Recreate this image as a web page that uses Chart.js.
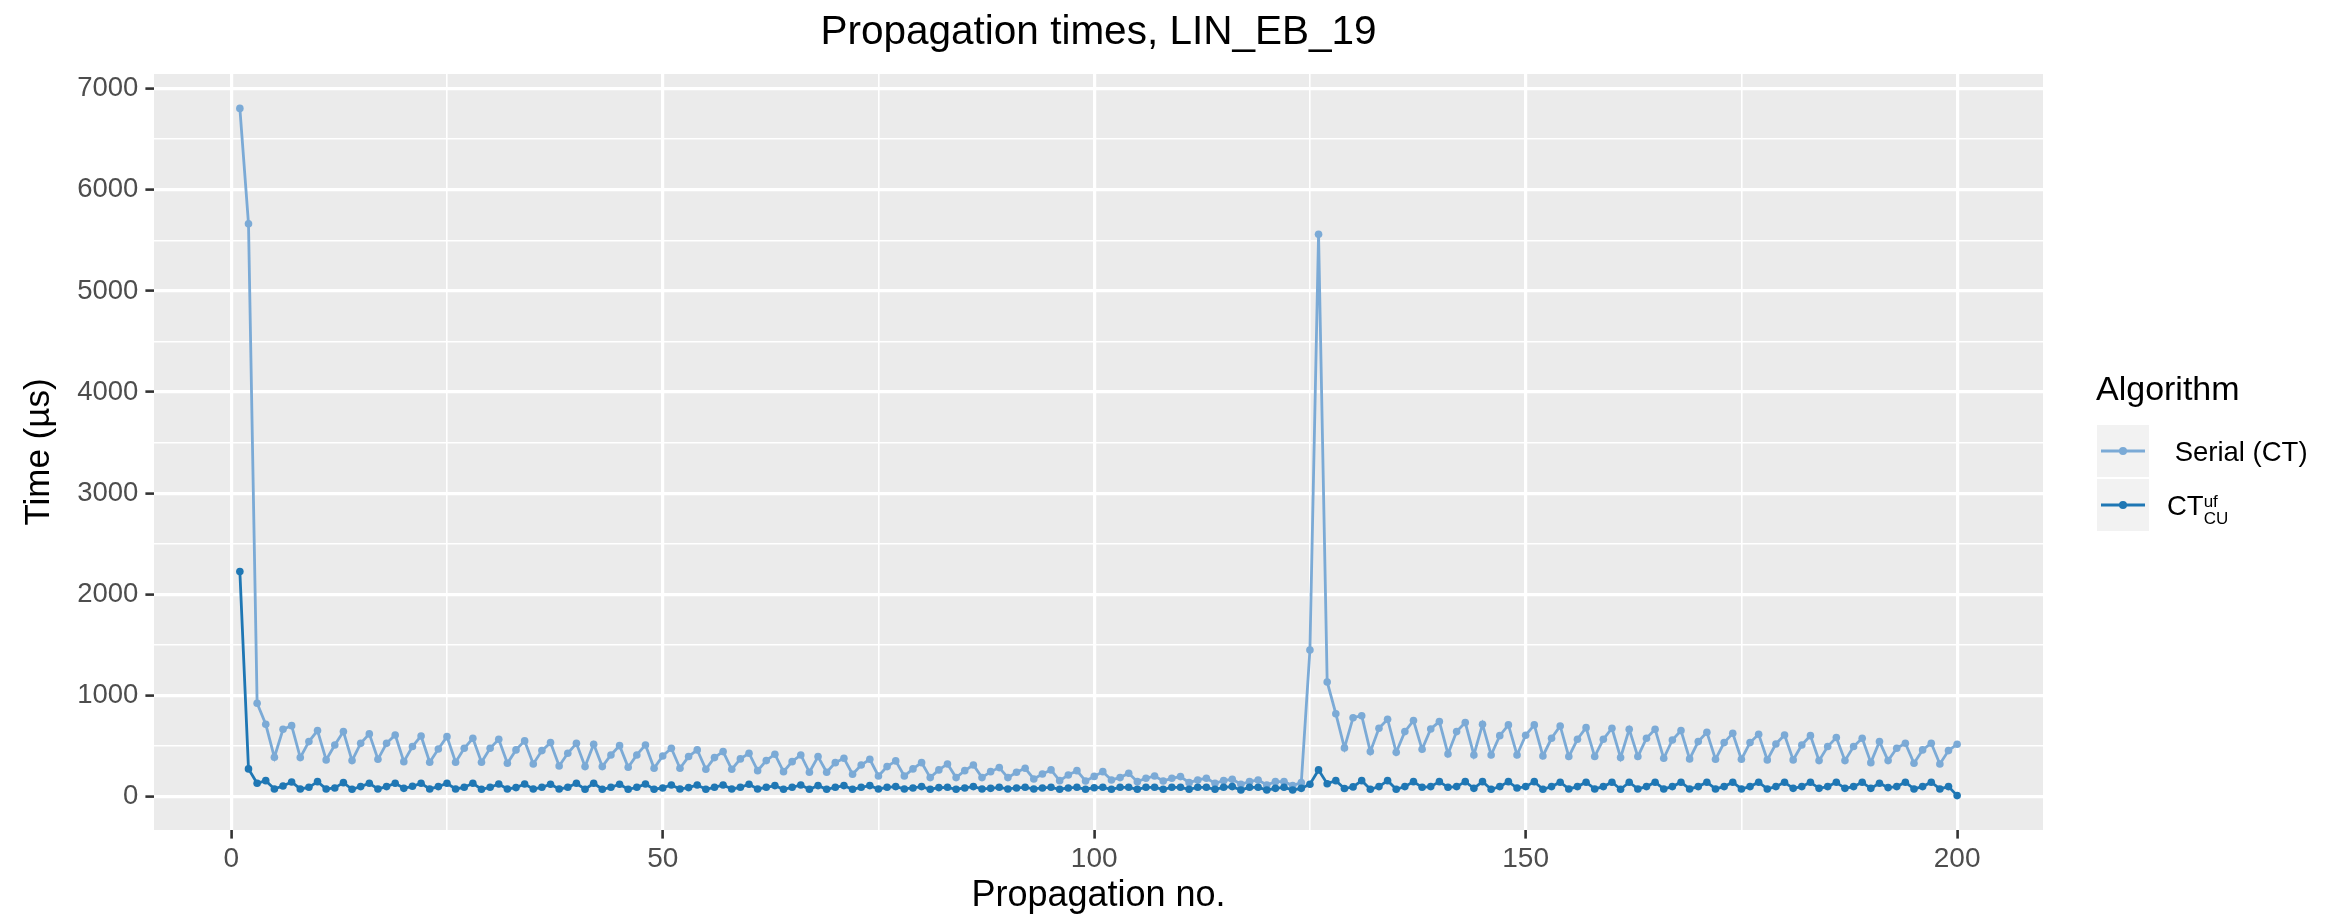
<!DOCTYPE html>
<html>
<head>
<meta charset="utf-8">
<script src="https://cdn.jsdelivr.net/npm/chart.js@4.4.1/dist/chart.umd.min.js"></script>
<style>
body { margin: 0; background: #fff; }
</style>
</head>
<body>
<canvas id="chart" width="2344" height="915"></canvas>
<script>
// x categories: propagation number 1..200
var propagation = [];
for (var n = 1; n <= 200; n++) propagation.push(n);

// Serial (CT)
var serialTimes = [
  6805, 5665, 923, 715, 389, 666, 702, 386, 544, 653,
  363, 511, 643, 356, 527, 620, 369, 527, 610, 346,
  495, 600, 340, 471, 593, 340, 478, 577, 340, 478,
  567, 330, 462, 551, 323, 455, 534, 303, 429, 527,
  297, 518, 297, 412, 504, 290, 412, 511, 280, 402,
  478, 280, 396, 462, 270, 386, 445, 270, 373, 429,
  257, 356, 419, 247, 346, 412, 241, 396, 241, 336,
  379, 221, 313, 369, 204, 297, 353, 204, 274, 336,
  188, 264, 323, 188, 257, 313, 188, 247, 287, 188,
  241, 280, 175, 224, 264, 158, 214, 257, 155, 200,
  247, 165, 188, 231, 148, 181, 204, 155, 181, 198,
  138, 165, 181, 132, 158, 171, 122, 148, 165, 115,
  148, 148, 109, 138, 1450, 5560, 1134, 820, 482, 780,
  800, 445, 676, 765, 438, 643, 752, 468, 669, 742,
  422, 643, 732, 412, 715, 412, 603, 709, 412, 607,
  709, 402, 577, 699, 396, 567, 682, 396, 567, 676,
  386, 666, 396, 577, 666, 379, 560, 653, 373, 544,
  636, 369, 534, 626, 369, 534, 617, 363, 521, 610,
  363, 511, 603, 356, 495, 584, 356, 495, 577, 336,
  544, 356, 478, 528, 330, 462, 528, 323, 455, 518
];

// CT_CU^uf
var ctTimes = [
  2225, 274, 132, 158, 76, 105, 145, 76, 92, 148,
  76, 86, 138, 73, 99, 132, 76, 99, 132, 82,
  102, 132, 76, 99, 132, 76, 92, 132, 73, 92,
  125, 76, 89, 125, 76, 92, 122, 76, 92, 132,
  73, 132, 73, 92, 122, 73, 92, 125, 73, 86,
  115, 76, 89, 115, 73, 92, 115, 76, 92, 122,
  76, 92, 109, 73, 92, 115, 73, 109, 73, 92,
  109, 73, 92, 109, 76, 92, 99, 76, 86, 99,
  73, 89, 92, 73, 86, 99, 76, 82, 92, 76,
  86, 92, 76, 86, 92, 73, 86, 92, 73, 88,
  92, 73, 92, 92, 73, 92, 92, 73, 92, 92,
  73, 92, 92, 73, 92, 99, 66, 92, 92, 66,
  82, 92, 66, 82, 122, 264, 128, 158, 80, 96,
  158, 73, 99, 158, 73, 99, 148, 92, 99, 148,
  92, 99, 148, 82, 148, 73, 99, 148, 85, 99,
  148, 73, 99, 142, 76, 99, 142, 76, 99, 142,
  73, 142, 76, 99, 142, 76, 99, 142, 76, 99,
  142, 76, 99, 142, 76, 99, 142, 76, 99, 142,
  82, 99, 142, 82, 99, 142, 82, 99, 142, 82,
  132, 89, 99, 142, 76, 99, 142, 76, 99, 10
];

var xMajorTicks = [0, 50, 100, 150, 200];
var xMinorTicks = [25, 75, 125, 175];
var yMajorTicks = [0, 1000, 2000, 3000, 4000, 5000, 6000, 7000];
var yMinorTicks = [500, 1500, 2500, 3500, 4500, 5500, 6500];

var legendTitle = 'Algorithm';
var seriesNames = [' Serial (CT)', 'CT'];
var seriesSup = ['', 'uf'];
var seriesSub = ['', 'CU'];
var seriesColors = ['#7BAAD6', '#1F77B4'];

var FONT = '"Liberation Sans", Arial, Helvetica, sans-serif';
Chart.defaults.font.family = FONT;

function points(values) {
    return values.map(function (v, i) { return {x: propagation[i], y: v}; });
}

function isMajor(ctx, list) {
    return ctx.tick && list.indexOf(ctx.tick.value) >= 0;
}

// grey panel behind the grid
var panelPlugin = {
    id: 'panel',
    beforeDraw: function (chart) {
        var a = chart.chartArea, c = chart.ctx;
        c.save();
        c.fillStyle = '#EBEBEB';
        c.fillRect(a.left, a.top, a.right - a.left, a.bottom - a.top);
        c.restore();
    }
};

// ggplot style legend on the right
var legendPlugin = {
    id: 'ggLegend',
    afterDraw: function (chart) {
        var c = chart.ctx;
        var x0 = 2096, top = 424, key = 54;
        c.save();
        c.fillStyle = '#000';
        c.textBaseline = 'alphabetic';
        c.font = '34px ' + FONT;
        c.fillText(legendTitle, x0, 400);
        chart.data.datasets.forEach(function (ds, k) {
            var y = top + k * key;
            var cy = y + key / 2;
            c.fillStyle = '#F2F2F2';
            c.fillRect(x0, y, key, key);
            c.strokeStyle = '#FFFFFF';
            c.lineWidth = 1;
            c.strokeRect(x0 + 0.5, y + 0.5, key - 1, key - 1);
            c.strokeStyle = ds.borderColor;
            c.lineWidth = 3;
            c.beginPath();
            c.moveTo(x0 + 5, cy);
            c.lineTo(x0 + key - 5, cy);
            c.stroke();
            c.fillStyle = ds.borderColor;
            c.beginPath();
            c.arc(x0 + key / 2, cy, 4, 0, Math.PI * 2);
            c.fill();
            c.fillStyle = '#000';
            c.font = '27.5px ' + FONT;
            var tx = x0 + key + 17;
            var base = cy + 9.5;
            c.fillText(seriesNames[k], tx, base);
            if (seriesSup[k] || seriesSub[k]) {
                var w = c.measureText(seriesNames[k]).width;
                c.font = '17px ' + FONT;
                c.fillText(seriesSup[k], tx + w, base - 8);
                c.fillText(seriesSub[k], tx + w, base + 9);
            }
        });
        c.restore();
    }
};

new Chart(document.getElementById('chart'), {
    type: 'line',
    data: {
        datasets: [{
            label: seriesNames[0],
            data: points(serialTimes),
            borderColor: seriesColors[0],
            backgroundColor: seriesColors[0],
            borderWidth: 2.8,
            pointRadius: 3.8,
            pointHoverRadius: 3.8,
            pointBorderWidth: 0,
            order: 2
        }, {
            label: seriesNames[1] + seriesSub[1],
            data: points(ctTimes),
            borderColor: seriesColors[1],
            backgroundColor: seriesColors[1],
            borderWidth: 2.8,
            pointRadius: 3.8,
            pointHoverRadius: 3.8,
            pointBorderWidth: 0,
            order: 1
        }]
    },
    options: {
        responsive: false,
        animation: false,
        devicePixelRatio: 1,
        layout: {padding: {left: 0, right: 301, top: 0, bottom: 0}},
        plugins: {
            legend: {display: false},
            tooltip: {enabled: false},
            title: {
                display: true,
                fullSize: false,
                text: 'Propagation times, LIN_EB_19',
                color: '#000',
                font: {size: 40.5, weight: 'normal', lineHeight: 1.2},
                padding: {top: 9, bottom: 16.4}
            }
        },
        scales: {
            x: {
                type: 'linear',
                min: -8.95,
                max: 209.95,
                bounds: 'data',
                afterBuildTicks: function (s) {
                    s.ticks = xMajorTicks.concat(xMinorTicks).sort(function (a, b) { return a - b; })
                        .map(function (v) { return {value: v}; });
                },
                afterFit: function (s) { s.height = 85; },
                ticks: {
                    autoSkip: false,
                    maxRotation: 0,
                    padding: 4,
                    color: '#4D4D4D',
                    font: {size: 28},
                    callback: function (v) { return xMajorTicks.indexOf(v) >= 0 ? String(v) : ''; }
                },
                grid: {
                    color: '#FFFFFF',
                    lineWidth: function (ctx) { return isMajor(ctx, xMajorTicks) ? 3.2 : 1.6; },
                    tickColor: function (ctx) { return isMajor(ctx, xMajorTicks) ? '#333333' : 'rgba(0,0,0,0)'; },
                    tickLength: 8.6,
                    tickWidth: 2.6
                },
                border: {display: false},
                title: {
                    display: true,
                    text: 'Propagation no.',
                    color: '#000',
                    font: {size: 36, lineHeight: 1.0},
                    padding: {top: 0, bottom: 1}
                }
            },
            y: {
                type: 'linear',
                min: -330,
                max: 7145,
                bounds: 'data',
                afterBuildTicks: function (s) {
                    s.ticks = yMajorTicks.concat(yMinorTicks).sort(function (a, b) { return a - b; })
                        .map(function (v) { return {value: v}; });
                },
                afterFit: function (s) { s.width = 154; },
                ticks: {
                    autoSkip: false,
                    padding: 7,
                    color: '#4D4D4D',
                    font: {size: 27.5},
                    callback: function (v) { return yMajorTicks.indexOf(v) >= 0 ? String(v) : ''; }
                },
                grid: {
                    color: '#FFFFFF',
                    lineWidth: function (ctx) { return isMajor(ctx, yMajorTicks) ? 3.2 : 1.6; },
                    tickColor: function (ctx) { return isMajor(ctx, yMajorTicks) ? '#333333' : 'rgba(0,0,0,0)'; },
                    tickLength: 8.6,
                    tickWidth: 2.6
                },
                border: {display: false},
                title: {
                    display: true,
                    text: 'Time (µs)',
                    color: '#000',
                    font: {size: 35, lineHeight: 1.2},
                    padding: {top: 18, bottom: 0}
                }
            }
        }
    },
    plugins: [panelPlugin, legendPlugin]
});
</script>
</body>
</html>
